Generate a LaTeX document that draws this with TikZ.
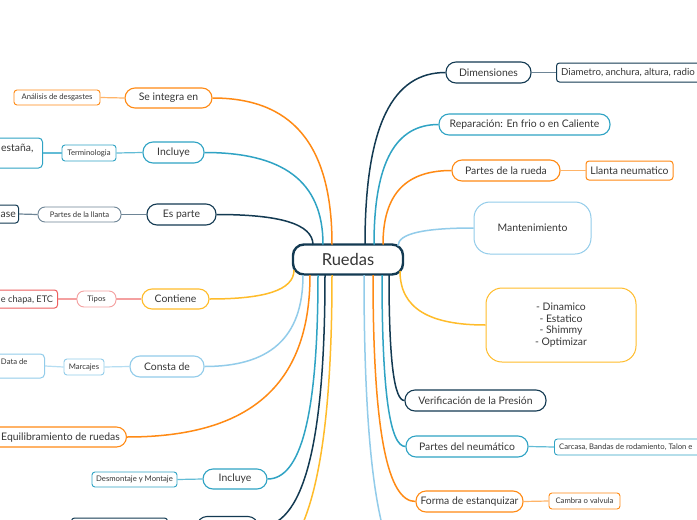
\documentclass[tikz,border=0pt]{standalone}
\usepackage{fontspec}
\setmainfont{Lato}
\usetikzlibrary{calc}
\definecolor{cNavy}{HTML}{133A52}
\definecolor{cNavyL}{HTML}{6E8596}
\definecolor{cTeal}{HTML}{2FA3C4}
\definecolor{cTealL}{HTML}{62BCD6}
\definecolor{cOrange}{HTML}{FF8A14}
\definecolor{cOrangeL}{HTML}{FFB468}
\definecolor{cLBlue}{HTML}{92CCEA}
\definecolor{cLBlueL}{HTML}{B5DDF2}
\definecolor{cYellow}{HTML}{FFBC2A}
\definecolor{cRed}{HTML}{EE5F5F}
\definecolor{cRedL}{HTML}{F4A0A0}
\definecolor{cText}{HTML}{363636}
\newcommand\fMain{\fontsize{10.4}{11.7}\selectfont}
\newcommand\fSmall{\fontsize{7.7}{9}\selectfont}
\newcommand\fBig{\fontsize{16.5}{18}\selectfont}
\begin{document}
\begin{tikzpicture}[x=1pt,y=-1pt,
  mm/.style={to path={let \p1=(\tikztostart),\p2=(\tikztotarget) in .. controls (\x1,{\y1+0.7*(\y2-\y1)}) and ({\x1+0.35*(\x2-\x1)},\y2) .. (\tikztotarget)}},
  pill/.style={draw, rounded corners=10pt, line width=1.1pt, fill=white, text=cText, font=\fMain, inner sep=0pt, minimum height=21pt},
  sbox/.style={draw, rounded corners=3pt, line width=0.9pt, fill=white, text=cText, font=\fSmall, inner sep=0pt, minimum height=15pt},
  spill/.style={sbox, rounded corners=7pt},
  mbox/.style={draw, rounded corners=3pt, line width=1pt, fill=white, text=cText, font=\fMain, inner sep=0pt, minimum height=19pt},
  gbox/.style={draw, rounded corners=4pt, line width=1pt, fill=white, inner sep=0pt, anchor=east},
  big/.style={draw, rounded corners=16pt, line width=1pt, fill=white, text=cText, font=\fMain, inner sep=0pt, align=center},
  lbl/.style={text=cText, inner sep=0pt, font=\fMain},
  link/.style={line width=1.5pt},
  sublink/.style={line width=1.2pt},
]
\clip (0,0) rectangle (697,520);
\fill[white] (0,0) rectangle (697,520);

% central
\node[draw=cNavy, line width=2.4pt, rounded corners=11pt, minimum width=110pt, minimum height=30pt, inner sep=0pt, font=\fBig, text=cText, fill=white] (ruedas) at (348,259.5) {Ruedas};

% right side
\node[pill, draw=cNavy, minimum width=85pt] (dim) at (488.5,72.5) {Dimensiones};
\node[mbox, draw=cNavy, anchor=west, minimum width=160pt] (diam) at (556,72.5) {};
\node[lbl, anchor=west, font=\fontsize{9.7}{11}\selectfont] (diamt) at (561,72.5) {Diametro, anchura, altura, radio};
\node[pill, draw=cTeal, minimum width=171pt] (rep) at (524.5,124.5) {Reparación: En frio o en Caliente};
\node[pill, draw=cOrange, minimum width=108pt] (prueda) at (506,170.5) {Partes de la rueda};
\node[mbox, draw=cOrange, minimum width=87pt] (llanta) at (629.5,170.5) {Llanta neumatico};
\node[big, draw=cLBlue, minimum width=117pt, minimum height=52pt] (mant) at (532.5,228) {Mantenimiento};
\node[big, draw=cYellow, minimum width=150pt, minimum height=74pt] (din) at (561,325) {- Dinamico\\- Estatico\\- Shimmy\\- Optimizar};
\node[pill, draw=cNavy, minimum width=141pt] (verif) at (475.5,400.5) {Verificación de la Presión};
\node[pill, draw=cTeal, minimum width=122pt] (pneu) at (467,446.5) {Partes del neumático};
\node[sbox, draw=cTeal, anchor=west, minimum width=160pt, minimum height=16pt] (carc) at (554,447) {};
\node[lbl, font=\fSmall, anchor=west] (carct) at (559,447) {Carcasa, Bandas de rodamiento, Talon e};
\node[pill, draw=cOrange, minimum width=107pt] (forma) at (469.5,501.5) {Forma de estanquizar};
\node[sbox, draw=cOrange, minimum width=71pt, minimum height=16pt] (cambra) at (584.5,501) {Cambra o valvula};

% left side
\node[pill, draw=cOrange, minimum width=87pt, minimum height=20pt] (seint) at (168.5,98) {Se integra en};
\node[sbox, draw=cOrange, minimum width=86pt] (anal) at (57,97.5) {Análisis de desgastes};
\node[pill, draw=cTeal, minimum width=61pt] (inc1) at (173.5,152.5) {Incluye};
\node[sbox, draw=cTeal, minimum width=54pt, minimum height=16pt] (term) at (89,153) {Terminologia};
\node[gbox, draw=cTeal, minimum width=63pt, minimum height=30pt] (g1) at (43,153) {};
\node[lbl, anchor=base west] (g1t) at (1,151.5) {estaña,};
\node[pill, draw=cNavy, minimum width=69pt] (espar) at (181.5,214.5) {Es parte};
\node[spill, draw=cNavyL, minimum width=83pt] (pll) at (79.5,214.5) {Partes de la llanta};
\node[gbox, draw=cNavy, minimum width=40pt, minimum height=18pt, rounded corners=3pt] (g2) at (19,214) {};
\node[lbl, anchor=base west] (g2t) at (0.5,217.5) {ase};
\node[pill, draw=cYellow, minimum width=67pt, minimum height=20pt] (cont) at (175.5,299) {Contiene};
\node[spill, draw=cRedL, minimum width=39pt, minimum height=16pt] (tipos) at (96.5,299) {Tipos};
\node[gbox, draw=cRed, minimum width=80pt, minimum height=18pt, rounded corners=3pt] (g3) at (58,299) {};
\node[lbl, anchor=base west, font=\fontsize{9.2}{11}\selectfont] (g3t) at (0.8,302.5) {e chapa, ETC};
\node[pill, draw=cLBlue, minimum width=74pt] (consta) at (167,366.5) {Consta de};
\node[sbox, draw=cLBlue, minimum width=40pt, minimum height=16pt] (marc) at (84,367) {Marcajes};
\node[gbox, draw=cLBlue, minimum width=60pt, minimum height=24pt] (g4) at (45,366) {};
\node[lbl, font=\fSmall, anchor=base west] (g4t) at (0.8,364.5) {Data de};
\node[gbox, draw=cOrange, rounded corners=10pt, line width=1.1pt, minimum width=150pt, minimum height=20pt] (equil) at (127,437) {};
\node[lbl, anchor=base west] (equilt) at (1,440.5) {Equilibramiento de ruedas};
\node[pill, draw=cTeal, minimum width=64pt, minimum height=20pt] (inc2) at (235,479) {Incluye};
\node[sbox, draw=cTeal, minimum width=85pt] (desm) at (134.5,479.5) {Desmontaje y Montaje};
\node[pill, draw=cNavy, minimum width=61pt] (bot1) at (227.5,527) {};
\node[gbox, draw=cNavy, rounded corners=3pt, minimum width=96pt, minimum height=22pt] (bot2) at (168,529) {};
\coordinate (yend) at (250,570);
\coordinate (lbend) at (420,580);

% start points on the central node
\coordinate (t1) at (313,245);
\coordinate (t2) at (323,244.5);
\coordinate (t3) at (332,244.5);
\coordinate (t4) at (365,244.5);
\coordinate (t5) at (374,244.5);
\coordinate (t6) at (383,244.5);
\coordinate (m1) at (398,246);
\coordinate (d1) at (400,271);
\coordinate (c1) at (294,270);
\coordinate (b1) at (303,275);
\coordinate (b2) at (310,275);
\coordinate (b3) at (318,275);
\coordinate (b4) at (325,275);
\coordinate (b5) at (332,275);
\coordinate (b6) at (364,275);
\coordinate (b7) at (373,275);
\coordinate (b8) at (382,275);
\coordinate (b9) at (389,275);

% main branches
\draw[link, cNavy] (t1) to[mm] (espar.east);
\draw[link, cTeal] (t2) to[mm] (inc1.east);
\draw[link, cOrange] (t3) to[mm] (seint.east);
\draw[link, cNavy] (t4) to[mm] (dim.west);
\draw[link, cTeal] (t5) to[mm] (rep.west);
\draw[link, cOrange] (t6) to[mm] (prueda.west);
\draw[link, cLBlue] (m1) to[mm] (mant.west);
\draw[link, cYellow] (d1) to[mm] (din.west);
\draw[link, cYellow] (c1) to[mm] (cont.east);
\draw[link, cLBlue] (b1) to[mm] (consta.east);
\draw[link, cOrange] (b2) to[mm] (equil.east);
\draw[link, cTeal] (b3) to[mm] (inc2.east);
\draw[link, cNavy] (b4) to[mm] (bot1.east);
\draw[link, cYellow] (b5) to[mm] (yend);
\draw[link, cLBlue] (b6) to[mm] (lbend);
\draw[link, cOrange] (b7) to[mm] (forma.west);
\draw[link, cTeal] (b8) to[mm] (pneu.west);
\draw[link, cNavy] (b9) to[mm] (verif.west);

% sub links
\draw[sublink, cNavyL] (dim.east) -- (diam.west);
\draw[sublink, cOrangeL] (prueda.east) -- (llanta.west);
\draw[sublink, cTealL] (pneu.east) -- (carc.west);
\draw[sublink, cOrangeL] (forma.east) -- (cambra.west);
\draw[sublink, cOrangeL] (seint.west) -- (anal.east);
\draw[sublink, cTealL] (inc1.west) -- (term.east);
\draw[sublink, cTealL] (term.west) -- (g1.east);
\draw[sublink, cNavyL] (espar.west) -- (pll.east);
\draw[sublink, cNavyL] (pll.west) -- (g2.east);
\draw[sublink, cRedL] (cont.west) -- (tipos.east);
\draw[sublink, cRedL] (tipos.west) -- (g3.east);
\draw[sublink, cLBlueL] (consta.west) -- (marc.east);
\draw[sublink, cLBlueL] (marc.west) -- (g4.east);
\draw[sublink, cTealL] (inc2.west) -- (desm.east);
\end{tikzpicture}
\end{document}
